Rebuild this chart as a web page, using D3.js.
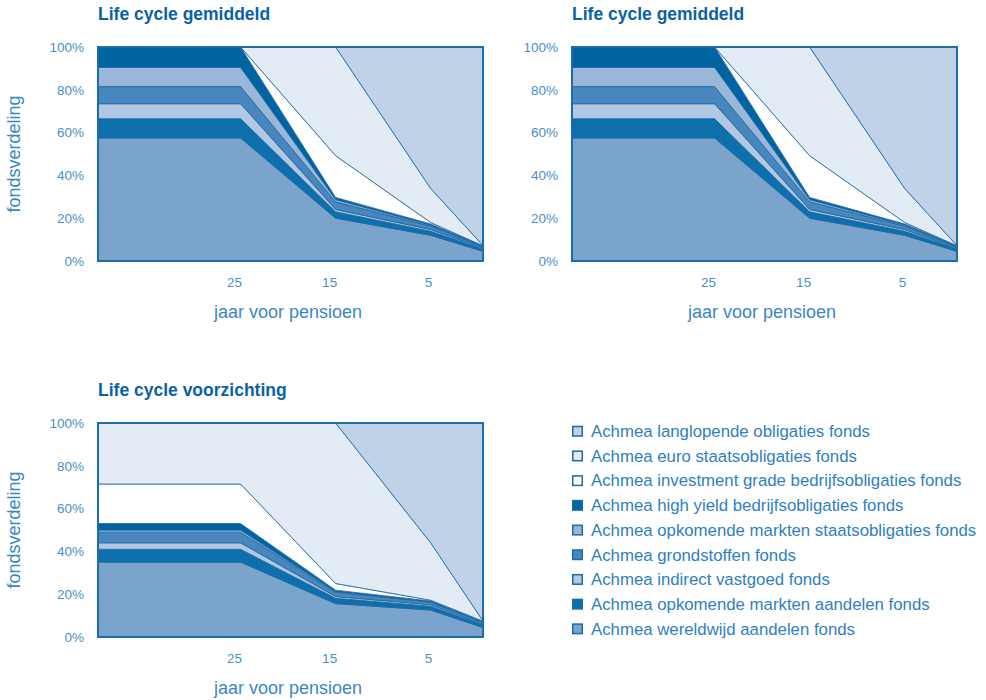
<!DOCTYPE html>
<html>
<head>
<meta charset="utf-8">
<script src="https://cdn.jsdelivr.net/npm/d3@7"></script>
<style>
  body { margin: 0; background: #fff; }
  svg { font-family: "Liberation Sans", Arial, Helvetica, sans-serif; }
</style>
</head>
<body>
<div id="chart"></div>
<script>
// years before pension (x positions of the data points)
var years = [40, 25, 15, 5, -0.5];
var xTicks = [25, 15, 5];
var yTicks = [0, 20, 40, 60, 80, 100];

// funds, bottom of the stack first
var funds = [
  "Achmea wereldwijd aandelen fonds",
  "Achmea opkomende markten aandelen fonds",
  "Achmea indirect vastgoed fonds",
  "Achmea grondstoffen fonds",
  "Achmea opkomende markten staatsobligaties fonds",
  "Achmea high yield bedrijfsobligaties fonds",
  "Achmea investment grade bedrijfsobligaties fonds",
  "Achmea euro staatsobligaties fonds",
  "Achmea langlopende obligaties fonds"
];
var fundColors = ["#7aa4cc", "#0d70ac", "#b1c7e2", "#4787bd", "#9ab6d9",
                  "#0063a2", "#ffffff", "#e3ebf5", "#bfd2e7"];

// Life cycle gemiddeld, % per fund at each year
var gemWereld     = [57.5, 57.5, 20.0, 12.0, 4.5];
var gemOpkAand    = [9.0, 9.0, 3.0, 1.9, 1.1];
var gemVastgoed   = [7.0, 7.0, 1.1, 0.8, 0.4];
var gemGrond      = [8.0, 8.0, 3.6, 1.6, 0.6];
var gemOpkStaats  = [9.0, 9.0, 1.0, 0.5, 0.2];
var gemHighYield  = [9.5, 9.5, 1.0, 0.5, 0.2];
var gemInvGrade   = [0, 0, 19.5, 0.7, 0.1];
var gemEuroStaats = [0, 0, 50.8, 15.9, 0.1];
var gemLanglopend = [0, 0, 0, 66.1, 92.8];

// Life cycle voorzichting
var vzWereld     = [35.0, 35.0, 15.6, 12.6, 4.4];
var vzOpkAand    = [6.0, 6.0, 2.5, 1.8, 1.2];
var vzVastgoed   = [3.0, 3.0, 0.8, 0.7, 0.4];
var vzGrond      = [5.0, 5.0, 2.0, 1.2, 0.8];
var vzOpkStaats  = [1.0, 1.0, 0.4, 0.2, 0.2];
var vzHighYield  = [3.0, 3.0, 0.6, 0.3, 0.2];
var vzInvGrade   = [18.5, 18.5, 3.1, 0.4, 0.2];
var vzEuroStaats = [28.5, 28.5, 75.0, 26.8, 0.1];
var vzLanglopend = [0, 0, 0, 56.0, 92.5];

var gemSeries = [gemWereld, gemOpkAand, gemVastgoed, gemGrond, gemOpkStaats,
                 gemHighYield, gemInvGrade, gemEuroStaats, gemLanglopend];
var vzSeries = [vzWereld, vzOpkAand, vzVastgoed, vzGrond, vzOpkStaats,
                vzHighYield, vzInvGrade, vzEuroStaats, vzLanglopend];

var W = 986, H = 700;
var PW = 385, PH = 214;

var svg = d3.select("#chart").append("svg")
  .attr("width", W).attr("height", H);

function buildRows(series) {
  return years.map(function(yr, i) {
    var row = { year: yr };
    funds.forEach(function(f, k) { row[f] = series[k][i]; });
    return row;
  });
}

function drawChart(left, top, title, series, showYTitle) {
  var g = svg.append("g").attr("transform", "translate(" + left + "," + top + ")");

  var x = d3.scaleLinear().domain([40, -0.5]).range([0, PW]);
  var y = d3.scaleLinear().domain([0, 100]).range([PH, 0]);

  var stacked = d3.stack().keys(funds)(buildRows(series));

  var area = d3.area()
    .x(function(d) { return x(d.data.year); })
    .y0(function(d) { return y(d[0]); })
    .y1(function(d) { return y(d[1]); });

  g.selectAll("path.layer")
    .data(stacked)
    .enter()
    .append("path")
    .attr("class", "layer")
    .attr("d", area)
    .attr("fill", function(d, i) { return fundColors[i]; })
    .attr("stroke", "#1a67a3")
    .attr("stroke-width", 0.8)
    .attr("stroke-linejoin", "round");

  // frame
  g.append("rect")
    .attr("x", 0).attr("y", 0)
    .attr("width", PW).attr("height", PH)
    .attr("fill", "none")
    .attr("stroke", "#1a6eab")
    .attr("stroke-width", 2);

  // y axis
  var yAxis = g.append("g")
    .call(d3.axisLeft(y).tickValues(yTicks).tickSize(0).tickPadding(14)
      .tickFormat(function(d) { return d + "%"; }));
  yAxis.select(".domain").remove();
  yAxis.selectAll("text")
    .attr("fill", "#4a8fc7")
    .style("font-size", "13.5px");

  // x axis, labels right aligned at the kinks
  var xAxis = g.append("g")
    .attr("transform", "translate(0," + PH + ")")
    .call(d3.axisBottom(x).tickValues(xTicks).tickSize(0).tickPadding(16));
  xAxis.select(".domain").remove();
  xAxis.selectAll("text")
    .attr("text-anchor", "end")
    .attr("dx", "1")
    .attr("fill", "#4a8fc7")
    .style("font-size", "13.5px");

  // titles
  g.append("text")
    .attr("x", 0).attr("y", -27)
    .attr("fill", "#0a62a5")
    .style("font-size", "17.5px")
    .style("font-weight", "bold")
    .text(title);

  g.append("text")
    .attr("x", 190).attr("y", PH + 57)
    .attr("text-anchor", "middle")
    .attr("fill", "#3a87c6")
    .style("font-size", "18px")
    .text("jaar voor pensioen");

  if (showYTitle) {
    g.append("text")
      .attr("transform", "translate(" + (20 - left) + "," + (PH / 2) + ") rotate(-90)")
      .attr("text-anchor", "middle")
      .attr("fill", "#3a87c6")
      .style("font-size", "18px")
      .text("fondsverdeling");
  }
}

drawChart(98, 47, "Life cycle gemiddeld", gemSeries, true);
drawChart(572, 47, "Life cycle gemiddeld", gemSeries, false);
drawChart(98, 423, "Life cycle voorzichting", vzSeries, true);

// legend, top of the stack first
var legendItems = funds.map(function(f, i) { return { name: f, color: fundColors[i] }; }).reverse();

var legend = svg.append("g").attr("transform", "translate(572,431)");
var rows = legend.selectAll("g.item")
  .data(legendItems)
  .enter()
  .append("g")
  .attr("class", "item")
  .attr("transform", function(d, i) { return "translate(0," + (i * 24.7) + ")"; });

rows.append("rect")
  .attr("x", 0.75).attr("y", -4.5)
  .attr("width", 9.5).attr("height", 9.5)
  .attr("fill", function(d) { return d.color; })
  .attr("stroke", "#1d6aa6")
  .attr("stroke-width", 1.5);

rows.append("text")
  .attr("x", 19).attr("y", 6)
  .attr("fill", "#2f80c2")
  .style("font-size", "16.8px")
  .text(function(d) { return d.name; });
</script>
</body>
</html>
